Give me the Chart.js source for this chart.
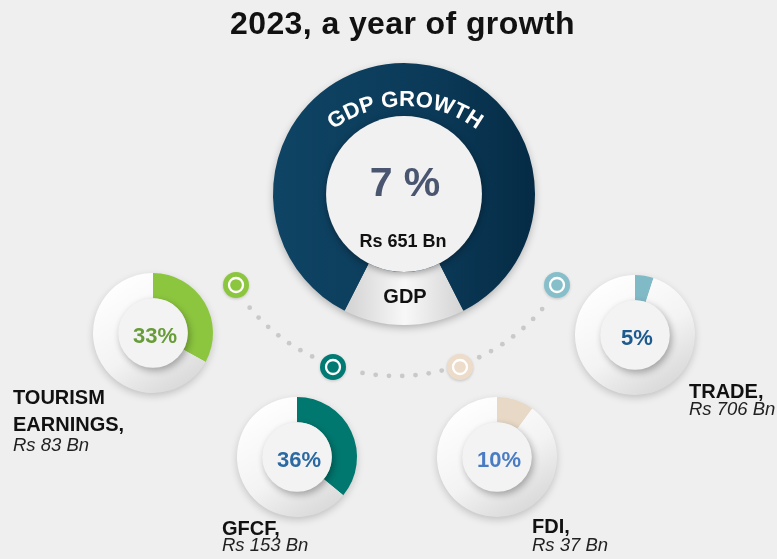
<!DOCTYPE html>
<html>
<head>
<meta charset="utf-8">
<title>2023, a year of growth</title>
<script src="https://cdn.jsdelivr.net/npm/chart.js@4.4.1/dist/chart.umd.min.js"></script>
<style>
  body { margin: 0; background: #efefef; }
  #page { position: relative; width: 777px; height: 559px; overflow: hidden; background: #efefef;
          font-family: "Liberation Sans", Arial, sans-serif; }
  canvas { position: absolute; }
  .txt { position: absolute; white-space: nowrap; line-height: 1; z-index: 5; }
</style>
</head>
<body>
<div id="page">
  <canvas id="main" width="777" height="559" style="left:0;top:0"></canvas>
</div>
<script>
"use strict";

// ---- data ----
const chartTitle = "2023, a year of growth";
const gdpGrowthPct = 7;
const gdpAmount = "Rs 651 Bn";
const gdpRingLabels = ["GDP", "GDP GROWTH"];
const gdpRingShares = [15, 85];           // label tab vs growth band, share of the ring

const categories = ["TOURISM EARNINGS", "GFCF", "FDI", "TRADE"];
const categoryLines = [["TOURISM", "EARNINGS,"], ["GFCF,"], ["FDI,"], ["TRADE,"]];
const growthPct = [33, 36, 10, 5];
const amounts = ["Rs 83 Bn", "Rs 153 Bn", "Rs 37 Bn", "Rs 706 Bn"];

// ---- styles / layout ----
const segColors = ["#8cc63f", "#00786f", "#e8d8c6", "#80bac6"];
const pctColors = ["#679c38", "#2b69a2", "#4a7cc4", "#1d5a8e"];
const dotColors = ["#8cc63f", "#007a73", "#ecdcc9", "#86bfca"];
const donutCenters = [[153, 333], [297, 457], [497, 457], [635, 335]];
const labelPos = [[13, 404], [222, 535], [532, 533], [689, 398]];
const amountBase = [452, 552, 552, 416];
const connectors = [[236, 285], [333, 367], [460, 367], [557, 285]];
const arcCenter = [396.5, 184], arcRadius = 192;

const page = document.getElementById("page");

function addText(str, x, base, size, opts) {
  const el = document.createElement("div");
  el.className = "txt";
  el.textContent = str;
  el.style.fontSize = size + "px";
  el.style.fontWeight = opts.weight || "bold";
  el.style.fontStyle = opts.style || "normal";
  el.style.color = opts.color || "#111";
  if (opts.spacing) el.style.letterSpacing = opts.spacing + "px";
  el.style.top = (base - size * 0.8465) + "px";
  el.style.left = x + "px";
  if (opts.center) el.style.transform = "translateX(-50%)";
  page.appendChild(el);
}

// dotted arc, connector rings, disc shadows and curved caption
const mainDecor = {
  id: "mainDecor",
  beforeDatasetsDraw(chart) {
    const ctx = chart.ctx;
    const arc = chart.getDatasetMeta(0).data[0];
    // dotted arc
    const [ax, ay] = arcCenter;
    const a0 = Math.atan2(connectors[0][1] - ay, connectors[0][0] - ax);
    const a1 = Math.atan2(connectors[3][1] - ay, connectors[3][0] - ax);
    const step = 13.3 / arcRadius;
    ctx.save();
    ctx.fillStyle = "#c9c9c9";
    for (let a = a0; a >= a1 - 0.001; a -= step) {
      const px = ax + arcRadius * Math.cos(a), py = ay + arcRadius * Math.sin(a);
      let near = connectors.some(c => Math.hypot(c[0] - px, c[1] - py) < 17);
      if (near) continue;
      ctx.beginPath();
      ctx.arc(px, py, 2.4, 0, Math.PI * 2);
      ctx.fill();
    }
    // connector rings
    connectors.forEach((c, i) => {
      ctx.save();
      ctx.shadowColor = "rgba(0,0,0,0.18)";
      ctx.shadowBlur = 3;
      ctx.shadowOffsetY = 1;
      ctx.fillStyle = dotColors[i];
      ctx.beginPath();
      ctx.arc(c[0], c[1], 13, 0, Math.PI * 2);
      ctx.fill();
      ctx.restore();
      ctx.strokeStyle = "#ffffff";
      ctx.lineWidth = 2.3;
      ctx.beginPath();
      ctx.arc(c[0], c[1], 7, 0, Math.PI * 2);
      ctx.stroke();
    });
    // soft shadow under the big ring
    ctx.shadowColor = "rgba(0,0,0,0.3)";
    ctx.shadowBlur = 8;
    ctx.shadowOffsetY = 3;
    ctx.fillStyle = "#0b3a58";
    ctx.beginPath();
    ctx.arc(arc.x, arc.y, arc.outerRadius - 1, 0, Math.PI * 2);
    ctx.fill();
    ctx.restore();
  },
  afterDatasetsDraw(chart) {
    const ctx = chart.ctx;
    const arc = chart.getDatasetMeta(0).data[0];
    // raised inner disc
    ctx.save();
    ctx.shadowColor = "rgba(0,0,0,0.35)";
    ctx.shadowBlur = 7;
    ctx.shadowOffsetY = 2;
    ctx.fillStyle = "#f1f1f1";
    ctx.beginPath();
    ctx.arc(arc.x, arc.y, arc.innerRadius, 0, Math.PI * 2);
    ctx.fill();
    ctx.restore();
    // curved caption (flatter arch than the ring itself)
    const text = gdpRingLabels[1], r = 121;
    const tx = arc.x + 1, ty = arc.y + 33;
    ctx.save();
    ctx.font = "bold 22px 'Liberation Sans', Arial, sans-serif";
    ctx.fillStyle = "#ffffff";
    ctx.textAlign = "center";
    ctx.textBaseline = "alphabetic";
    const widths = [...text].map(ch => ctx.measureText(ch).width);
    const total = widths.reduce((s, w) => s + w, 0);
    let off = 0;
    const start = -Math.PI / 2 - total / (2 * r);
    [...text].forEach((ch, i) => {
      const a = start + (off + widths[i] / 2) / r;
      ctx.save();
      ctx.translate(tx + r * Math.cos(a), ty + r * Math.sin(a));
      ctx.rotate(a + Math.PI / 2);
      ctx.fillText(ch, 0, 0);
      ctx.restore();
      off += widths[i];
    });
    ctx.restore();
  }
};

new Chart(document.getElementById("main"), {
  type: "doughnut",
  data: {
    labels: gdpRingLabels,
    datasets: [{
      data: gdpRingShares,
      backgroundColor: function (c) {
        const { ctx, chartArea } = c.chart;
        if (!chartArea) return c.dataIndex === 0 ? "#ececec" : "#0b3a58";
        if (c.dataIndex === 0) {
          const g = ctx.createLinearGradient(340, 0, 470, 0);
          g.addColorStop(0, "#cfcfcf");
          g.addColorStop(0.5, "#f8f8f8");
          g.addColorStop(1, "#cfcfcf");
          return g;
        }
        const g = ctx.createLinearGradient(chartArea.left, 0, chartArea.right, 0);
        g.addColorStop(0, "#0f4464");
        g.addColorStop(0.6, "#0b3a58");
        g.addColorStop(1, "#052b45");
        return g;
      },
      borderWidth: 0,
      hoverOffset: 0
    }]
  },
  options: {
    responsive: false,
    animation: false,
    events: [],
    rotation: 153,
    cutout: "59.5%",
    layout: { padding: { left: 273, right: 242, top: 63, bottom: 234 } },
    plugins: { legend: { display: false }, tooltip: { enabled: false } }
  },
  plugins: [mainDecor]
});

// small donuts
const smallDecor = {
  id: "smallDecor",
  beforeDatasetsDraw(chart) {
    const ctx = chart.ctx;
    const arc = chart.getDatasetMeta(0).data[0];
    ctx.save();
    ctx.shadowColor = "rgba(0,0,0,0.22)";
    ctx.shadowBlur = 9;
    ctx.shadowOffsetY = 3;
    ctx.fillStyle = "#f4f4f4";
    ctx.beginPath();
    ctx.arc(arc.x, arc.y, arc.outerRadius - 1, 0, Math.PI * 2);
    ctx.fill();
    ctx.restore();
  },
  afterDatasetsDraw(chart) {
    const ctx = chart.ctx;
    const arc = chart.getDatasetMeta(0).data[0];
    ctx.save();
    ctx.shadowColor = "rgba(0,0,0,0.3)";
    ctx.shadowBlur = 7;
    ctx.shadowOffsetX = 2;
    ctx.shadowOffsetY = 3;
    ctx.fillStyle = "#f3f3f3";
    ctx.beginPath();
    ctx.arc(arc.x, arc.y, arc.innerRadius, 0, Math.PI * 2);
    ctx.fill();
    ctx.restore();
  }
};

categories.forEach((name, i) => {
  const [cx, cy] = donutCenters[i];
  const cv = document.createElement("canvas");
  cv.width = 150;
  cv.height = 150;
  cv.style.left = (cx - 75) + "px";
  cv.style.top = (cy - 75) + "px";
  page.appendChild(cv);
  new Chart(cv, {
    type: "doughnut",
    data: {
      labels: [name, ""],
      datasets: [{
        data: [growthPct[i], 100 - growthPct[i]],
        backgroundColor: function (c) {
          if (c.dataIndex === 0) return segColors[i];
          const { ctx, chartArea } = c.chart;
          if (!chartArea) return "#f2f2f2";
          const g = ctx.createLinearGradient(30, 25, 100, 140);
          g.addColorStop(0, "#ffffff");
          g.addColorStop(0.55, "#f3f3f3");
          g.addColorStop(1, "#d6d6d6");
          return g;
        },
        borderWidth: 0,
        hoverOffset: 0
      }]
    },
    options: {
      responsive: false,
      animation: false,
      events: [],
      cutout: "58%",
      layout: { padding: 15 },
      plugins: { legend: { display: false }, tooltip: { enabled: false } }
    },
    plugins: [smallDecor]
  });
  addText(growthPct[i] + "%", cx + 2, cy + 11, 22, { color: pctColors[i], center: true });
  const [lx, lb] = labelPos[i];
  categoryLines[i].forEach((line, k) => addText(line, lx, lb + k * 27, 20, { color: "#111" }));
  addText(amounts[i], lx, amountBase[i], 18.5, { weight: "normal", style: "italic", color: "#222" });
});

// titles and centre text
addText(chartTitle, 402.5, 34.5, 32, { center: true, spacing: 0.4 });
addText(gdpGrowthPct + " %", 405, 197, 41, { color: "#4a5670", center: true });
addText(gdpAmount, 403, 247, 18, { center: true });
addText(gdpRingLabels[0], 405, 303, 20, { center: true });
</script>
</body>
</html>
